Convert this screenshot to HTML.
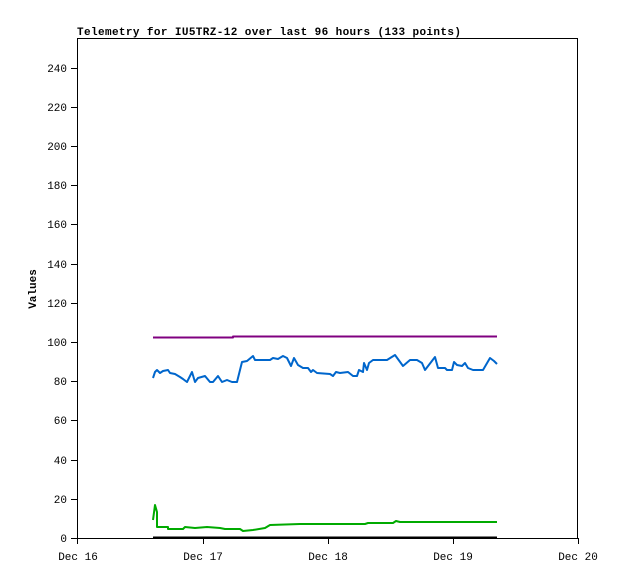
<!DOCTYPE html>
<html><head><style>body{margin:0;background:#fff}svg{display:block}</style></head><body>
<svg width="618" height="579" xmlns="http://www.w3.org/2000/svg" font-family="Liberation Mono, DejaVu Sans Mono, monospace" font-size="11">
<rect width="618" height="579" fill="#fff"/>
<text x="77" y="35" font-weight="bold" font-size="11" textLength="384" lengthAdjust="spacing">Telemetry for IU5TRZ-12 over last 96 hours (133 points)</text>
<rect x="77.5" y="38.5" width="500" height="500" fill="none" stroke="#000"/>
<g stroke="#000">
<line x1="71" y1="538.5" x2="77" y2="538.5"/><line x1="71" y1="499.5" x2="77" y2="499.5"/><line x1="71" y1="460.5" x2="77" y2="460.5"/><line x1="71" y1="420.5" x2="77" y2="420.5"/><line x1="71" y1="381.5" x2="77" y2="381.5"/><line x1="71" y1="342.5" x2="77" y2="342.5"/><line x1="71" y1="303.5" x2="77" y2="303.5"/><line x1="71" y1="264.5" x2="77" y2="264.5"/><line x1="71" y1="224.5" x2="77" y2="224.5"/><line x1="71" y1="185.5" x2="77" y2="185.5"/><line x1="71" y1="146.5" x2="77" y2="146.5"/><line x1="71" y1="107.5" x2="77" y2="107.5"/><line x1="71" y1="68.5" x2="77" y2="68.5"/>
<line x1="77.5" y1="538" x2="77.5" y2="544"/><line x1="203.5" y1="538" x2="203.5" y2="544"/><line x1="328.5" y1="538" x2="328.5" y2="544"/><line x1="453.5" y1="538" x2="453.5" y2="544"/><line x1="578.5" y1="538" x2="578.5" y2="544"/>
</g>
<g text-anchor="end">
<text x="67" y="542">0</text><text x="67" y="503">20</text><text x="67" y="464">40</text><text x="67" y="424">60</text><text x="67" y="385">80</text><text x="67" y="346">100</text><text x="67" y="307">120</text><text x="67" y="268">140</text><text x="67" y="228">160</text><text x="67" y="189">180</text><text x="67" y="150">200</text><text x="67" y="111">220</text><text x="67" y="72">240</text>
</g>
<g text-anchor="middle">
<text x="78" y="560">Dec 16</text><text x="203" y="560">Dec 17</text><text x="328" y="560">Dec 18</text><text x="453" y="560">Dec 19</text><text x="578" y="560">Dec 20</text>
</g>
<text transform="translate(36,289) rotate(-90)" text-anchor="middle" font-weight="bold">Values</text>
<g fill="none" stroke-width="2" stroke-linejoin="round">
<polyline stroke="#800080" points="153,337.5 233,337.5 233,336.5 497,336.5"/>
<polyline stroke="#0066cc" points="153,378 155,372 157,370 160,373 163,371 168,370 170,373 175,374 180,377 183,379 187,382 192,372 195,382 198,378 205,376 210,382 213,382 218,376 222,382 227,380 232,382 237,382 242,362 247,361 253,356 255,360 270,360 273,358 278,359 283,356 287,358 291,366 294,358 298,365 303,368 308,368 311,372 313,370 317,373 330,374 333,376 336,372 340,373 348,372 353,376 357,376 359,370 363,372 364,363 367,370 369,363 373,360 387,360 395,355 403,366 410,360 417,360 422,363 425,370 435,357 438,368 445,368 447,370 452,370 454,362 457,365 462,366 465,363 468,368 473,370 483,370 490,358 494,361 497,364"/>
<polyline stroke="#00aa00" points="153,520 155,505 157,512 157,527 168,527 168,529 183,529 185,527 195,528 207,527 220,528 225,529 240,529 243,531 253,530 265,528 270,525 300,524 330,524 365,524 368,523 393,523 396,521 400,522 497,522"/>
<line stroke="#000" x1="153" y1="537.5" x2="497" y2="537.5"/>
</g>
</svg>
</body></html>
